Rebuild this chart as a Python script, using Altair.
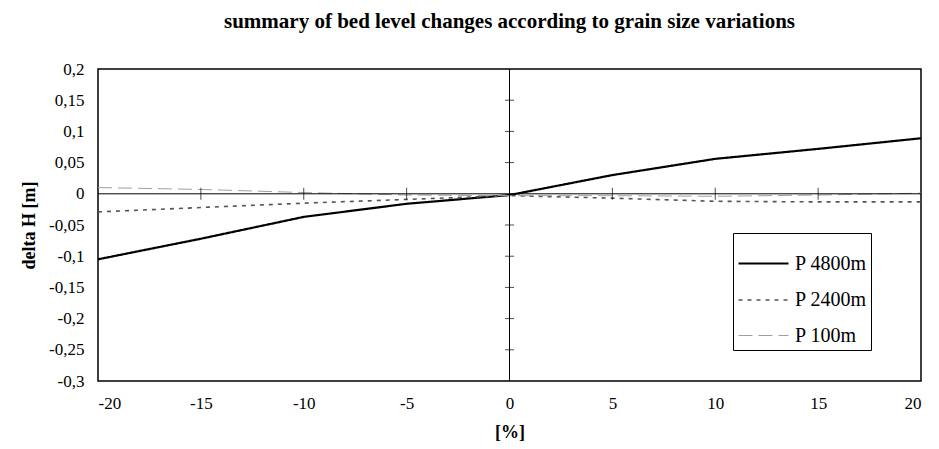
import altair as alt
import pandas as pd

x_vals = [-20, -15, -10, -5, 0, 5, 10, 15, 20]
p4800 = [-0.105, -0.072, -0.037, -0.016, -0.002, 0.030, 0.056, 0.072, 0.089]
p2400 = [-0.029, -0.022, -0.015, -0.009, -0.003, -0.007, -0.012, -0.013, -0.013]
p100 = [0.010, 0.007, 0.002, -0.002, -0.003, -0.003, -0.004, -0.002, 0.001]
series_names = ["P 4800m", "P 2400m", "P 100m"]
y_ticks = [-0.3, -0.25, -0.2, -0.15, -0.1, -0.05, 0, 0.05, 0.1, 0.15, 0.2]
x_ticks = [-20, -15, -10, -5, 0, 5, 10, 15, 20]
x_minor = [-15, -10, -5, 5, 10, 15]
y_minor = [-0.25, -0.2, -0.15, -0.1, -0.05, 0.05, 0.1, 0.15]

rows = []
for name, vals in zip(series_names, [p4800, p2400, p100]):
    for xv, yv in zip(x_vals, vals):
        rows.append({"x": xv, "y": yv, "series": name})
df = pd.DataFrame(rows)

FONT = "Liberation Serif"

xs = alt.Scale(domain=[-20, 20], nice=False, zero=False)
ys = alt.Scale(domain=[-0.3, 0.2], nice=False, zero=False)
x_axis = alt.Axis(values=x_ticks, ticks=False, grid=False, domain=False,
                  labelPadding=14, titlePadding=12,
                  labelFont=FONT, labelFontSize=17, labelColor="black",
                  titleFont=FONT, titleFontSize=18, titleFontWeight="bold", titleColor="black",
                  labelExpr="toString(datum.value)")
y_axis = alt.Axis(values=y_ticks, ticks=False, grid=False, domain=False,
                  labelPadding=14, titlePadding=10,
                  labelFont=FONT, labelFontSize=17, labelColor="black",
                  titleFont=FONT, titleFontSize=18, titleFontWeight="bold", titleColor="black",
                  labelExpr="replace(toString(datum.value), '.', ',')")

legend = alt.Legend(
    title=None, orient="none", legendX=635, legendY=164,
    strokeColor="black", fillColor="white", padding=4,
    symbolType="stroke", symbolSize=2500, symbolStrokeWidth=1.5,
    labelFont=FONT, labelFontSize=20, labelColor="black",
    rowPadding=-24, labelOffset=5, labelLimit=300,
)

lines = alt.Chart(df).mark_line().encode(
    x=alt.X("x:Q", scale=xs, title="[%]", axis=x_axis),
    y=alt.Y("y:Q", scale=ys, title="delta H [m]", axis=y_axis),
    color=alt.Color("series:N", scale=alt.Scale(domain=series_names,
                    range=["black", "#555555", "#a0a0a0"]), legend=legend),
    strokeDash=alt.StrokeDash("series:N", scale=alt.Scale(domain=series_names,
                    range=[[1, 0], [4, 5], [14, 6]]), legend=legend),
    strokeWidth=alt.StrokeWidth("series:N", scale=alt.Scale(domain=series_names,
                    range=[2.2, 1.0, 1.2]), legend=legend),
)

zero_y = alt.Chart(pd.DataFrame({"y": [0]})).mark_rule(color="black", strokeWidth=1).encode(
    y=alt.Y("y:Q", scale=ys, title="delta H [m]", axis=y_axis))
zero_x = alt.Chart(pd.DataFrame({"x": [0]})).mark_rule(color="black", strokeWidth=1).encode(
    x=alt.X("x:Q", scale=xs, title="[%]", axis=x_axis))

ytick_df = pd.DataFrame({"x": [0] * len(y_minor), "y": y_minor})
xtick_df = pd.DataFrame({"x": x_minor, "y": [0] * len(x_minor)})
yticks_m = alt.Chart(ytick_df).mark_tick(orient="horizontal", size=9, thickness=1, color="black").encode(
    x=alt.X("x:Q", scale=xs, title="[%]", axis=x_axis),
    y=alt.Y("y:Q", scale=ys, title="delta H [m]", axis=y_axis))
xticks_m = alt.Chart(xtick_df).mark_tick(orient="vertical", size=12, thickness=1, color="black").encode(
    x=alt.X("x:Q", scale=xs, title="[%]", axis=x_axis),
    y=alt.Y("y:Q", scale=ys, title="delta H [m]", axis=y_axis))

chart = alt.layer(lines, zero_y, zero_x, yticks_m, xticks_m).properties(
    width=823, height=312,
    padding={"left": 12, "top": 3, "right": 5, "bottom": 0},
    title=alt.TitleParams("summary of bed level changes according to grain size variations",
                          font=FONT, fontSize=21, fontWeight="bold", anchor="middle",
                          frame="group", offset=28, color="black"),
).configure(font=FONT).configure_view(stroke="black", strokeWidth=1.5).configure_axis(
    labelFont=FONT, titleFont=FONT).configure_legend(labelFont=FONT)

chart.save("out.html", embed_options={"renderer": "svg", "actions": False})
